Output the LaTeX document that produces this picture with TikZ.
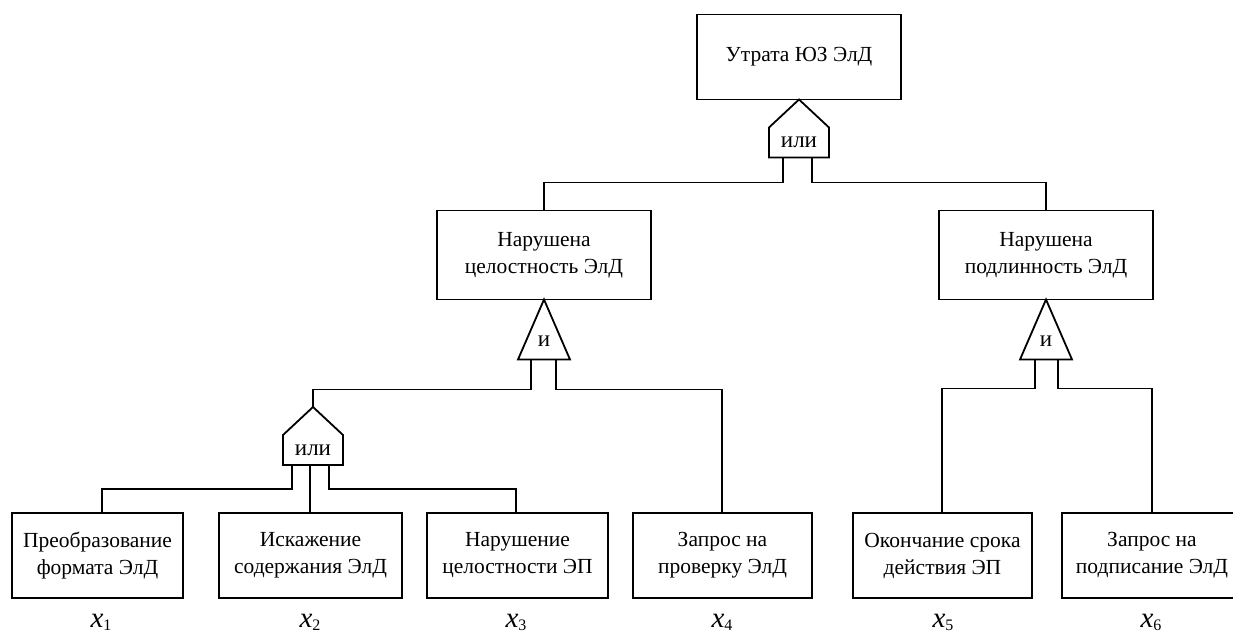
\documentclass[tikz,border=0pt]{standalone}
\usepackage{fontspec}
\setmainfont{Liberation Serif}
\newcommand\orgateshape[2]{% x of apex, y of apex
  \draw[gateline] (#1,#2) -- (#1-30,#2+28) -- (#1-30,#2+58) -- (#1+30,#2+58) -- (#1+30,#2+28) -- cycle;}
\newcommand\andgateshape[2]{% x of apex, y of apex
  \draw[gateline] (#1,#2) -- (#1-26,#2+60) -- (#1+26,#2+60) -- cycle;}
\newcommand\xlabel[1]{{\fontsize{29}{29}\selectfont\itshape x}{\fontsize{16}{16}\selectfont\raisebox{-3pt}{#1}}}
\begin{document}
\begin{tikzpicture}[x=1pt,y=-1pt,
  gateline/.style={line width=1.8pt, line join=miter},
  wire/.style={line width=1.8pt},
  evbox/.style={draw, line width=1.8pt, align=center, inner sep=0pt,
    font=\fontsize{21.5}{27}\selectfont},
  gtext/.style={inner sep=0pt, font=\fontsize{23}{25}\selectfont},
  xlab/.style={anchor=base, inner sep=0pt}]
\useasboundingbox (0,0) rectangle (1233,635);
\clip (0,0) rectangle (1233,635);
\fill[white] (0,0) rectangle (1233,635);

% boxes
\node[evbox, minimum width=204pt, minimum height=85pt] (top) at (799,57) {Утрата ЮЗ ЭлД};
\node[evbox, minimum width=214pt, minimum height=89pt] (m1) at (544,255) {Нарушена\\целостность ЭлД};
\node[evbox, minimum width=214pt, minimum height=89pt] (m2) at (1046,255) {Нарушена\\подлинность ЭлД};

\node[evbox, minimum width=171pt, minimum height=85pt] (b1) at (97.5,555.5) {Преобразование\\формата ЭлД};
\node[evbox, minimum width=183pt, minimum height=85pt] (b2) at (310.5,555.5) {Искажение\\содержания ЭлД};
\node[evbox, minimum width=181pt, minimum height=85pt] (b3) at (517.5,555.5) {Нарушение\\целостности ЭП};
\node[evbox, minimum width=179pt, minimum height=85pt] (b4) at (722.5,555.5) {Запрос на\\проверку ЭлД};
\node[evbox, minimum width=179pt, minimum height=85pt] (b5) at (942.5,555.5) {Окончание срока\\действия ЭП};
\node[evbox, minimum width=180pt, minimum height=85pt] (b6) at (1152,555.5) {Запрос на\\подписание ЭлД};

% gates
\orgateshape{799}{99.5}
\node[gtext] (g0) at (799,142) {или};
\andgateshape{544}{299.5}
\node[gtext] (g1) at (544,341) {и};
\andgateshape{1046}{299.5}
\node[gtext] (g3) at (1046,341) {и};
\orgateshape{313}{407}
\node[gtext] (g2) at (313,450) {или};

% gate legs
\coordinate (g0l) at (783,157.5);
\coordinate (g0r) at (812,157.5);
\coordinate (g1l) at (531,359.5);
\coordinate (g1r) at (556,359.5);
\coordinate (g3l) at (1035,359.5);
\coordinate (g3r) at (1058,359.5);
\coordinate (g2l) at (292,465);
\coordinate (g2m) at (310,465);
\coordinate (g2r) at (329,465);
\coordinate (g2apex) at (313,407);

% connectors
\draw[wire] (g0l) -- ++(0,25) -| (m1.north);
\draw[wire] (g0r) -- ++(0,25) -| (m2.north);
\draw[wire] (g1l) -- ++(0,30) -| (g2apex);
\draw[wire] (g1r) -- ++(0,30) -| ([xshift=-0.5pt]b4.north);
\draw[wire] (g3l) -- ++(0,29) -| ([xshift=-0.5pt]b5.north);
\draw[wire] (g3r) -- ++(0,29) -| (b6.north);
\draw[wire] (g2l) -- ++(0,24) -| ([xshift=4.5pt]b1.north);
\draw[wire] (g2m) -- (g2m |- b2.north);
\draw[wire] (g2r) -- ++(0,24) -| ([xshift=-1.5pt]b3.north);

% labels
\node[xlab] (x1) at (101,627) {\xlabel{1}};
\node[xlab] (x2) at (310,627) {\xlabel{2}};
\node[xlab] (x3) at (516,627) {\xlabel{3}};
\node[xlab] (x4) at (722,627) {\xlabel{4}};
\node[xlab] (x5) at (943,627) {\xlabel{5}};
\node[xlab] (x6) at (1151,627) {\xlabel{6}};
\end{tikzpicture}
\end{document}
